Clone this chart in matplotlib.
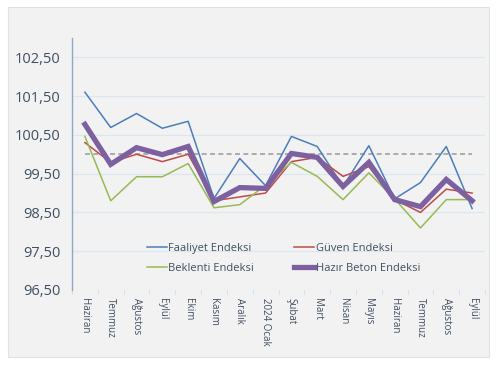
import numpy as np
import matplotlib.pyplot as plt
from matplotlib.patches import Rectangle

aylar = ['Haziran', 'Temmuz', 'Ağustos', 'Eylül', 'Ekim', 'Kasım', 'Aralık', '2024 Ocak',
         'Şubat', 'Mart', 'Nisan', 'Mayıs', 'Haziran', 'Temmuz', 'Ağustos', 'Eylül']

faaliyet = [101.60, 100.69, 101.05, 100.67, 100.85, 98.86, 99.89, 99.19,
            100.46, 100.20, 99.17, 100.22, 98.85, 99.27, 100.20, 98.60]
guven = [100.30, 99.79, 100.00, 99.81, 100.00, 98.80, 98.90, 99.00,
         99.81, 99.92, 99.43, 99.68, 98.83, 98.50, 99.10, 99.00]
beklenti = [100.46, 98.80, 99.42, 99.42, 99.76, 98.62, 98.70, 99.20,
            99.79, 99.43, 98.83, 99.52, 98.85, 98.10, 98.83, 98.83]
hazir_beton = [100.77, 99.74, 100.17, 99.99, 100.20, 98.78, 99.14, 99.12,
               100.02, 99.92, 99.17, 99.79, 98.83, 98.65, 99.35, 98.80]
esik = [100.0] * len(aylar)

yazi_rengi = '#404f62'

fig = plt.figure(figsize=(5, 3.68), dpi=100, facecolor='white')
fig.add_artist(Rectangle((8 / 500, 1 - 357 / 368), 481 / 500, 350 / 368,
                         transform=fig.transFigure, facecolor='#f2f2f2',
                         edgecolor='#dde3ea', linewidth=0.8, zorder=-5))

ax = fig.add_axes([0.144, 0.212, 0.826, 0.685])
ax.set_zorder(2)
ax.set_facecolor('none')
x = np.arange(len(aylar))

ax.plot(x, esik, color='#a0a0a0', linestyle=(0, (3, 2)), linewidth=1.2)
l1, = ax.plot(x, faaliyet, color='#4a7ebb', linewidth=1.1, label='Faaliyet Endeksi')
l2, = ax.plot(x, guven, color='#be4b48', linewidth=1.1, label='Güven Endeksi')
l3, = ax.plot(x, beklenti, color='#98b954', linewidth=1.1, label='Beklenti Endeksi')
l4, = ax.plot(x, hazir_beton, color='#7d60a0', linewidth=3.8, label='Hazır Beton Endeksi',
              solid_joinstyle='miter')

ax.set_xlim(-0.5, len(aylar) - 0.5)
ax.set_ylim(96.5, 103.0)
yt = [96.5, 97.5, 98.5, 99.5, 100.5, 101.5, 102.5]
ax.set_yticks(yt)
ax.set_yticklabels([f'{v:.2f}'.replace('.', ',') for v in yt], fontsize=10.5,
                   color=yazi_rengi, family='Open Sans')
ax.yaxis.grid(True, color='#dce6f0', linewidth=0.9)
ax.set_axisbelow(True)

ax.set_xticks(x)
ax.set_xticklabels(aylar, rotation=270, fontsize=7, color=yazi_rengi, family='Open Sans')
ax.set_xticks(np.arange(-0.5, len(aylar)), minor=True)
ax.tick_params(axis='x', which='major', length=0, pad=6)
ax.tick_params(axis='x', which='minor', length=3, color='#d0d8e2')
ax.tick_params(axis='y', length=0, pad=8)

for s in ['top', 'right', 'bottom']:
    ax.spines[s].set_visible(False)
ax.spines['left'].set_color('#8ea9c8')
ax.spines['left'].set_linewidth(1.0)

# sütun sırası: Faaliyet/Beklenti solda, Güven/Hazır Beton sağda
leg = ax.legend([l1, l3, l2, l4], [l1.get_label(), l3.get_label(), l2.get_label(), l4.get_label()],
                ncol=2, loc='upper left', bbox_to_anchor=(0.17, 0.205), frameon=False,
                borderaxespad=0, handlelength=1.8, handletextpad=0.15, columnspacing=3.6,
                labelspacing=0.85, prop={'family': 'Open Sans', 'size': 8})
for t in leg.get_texts():
    t.set_color(yazi_rengi)

fig.savefig('out.png', dpi=100, facecolor='white')
